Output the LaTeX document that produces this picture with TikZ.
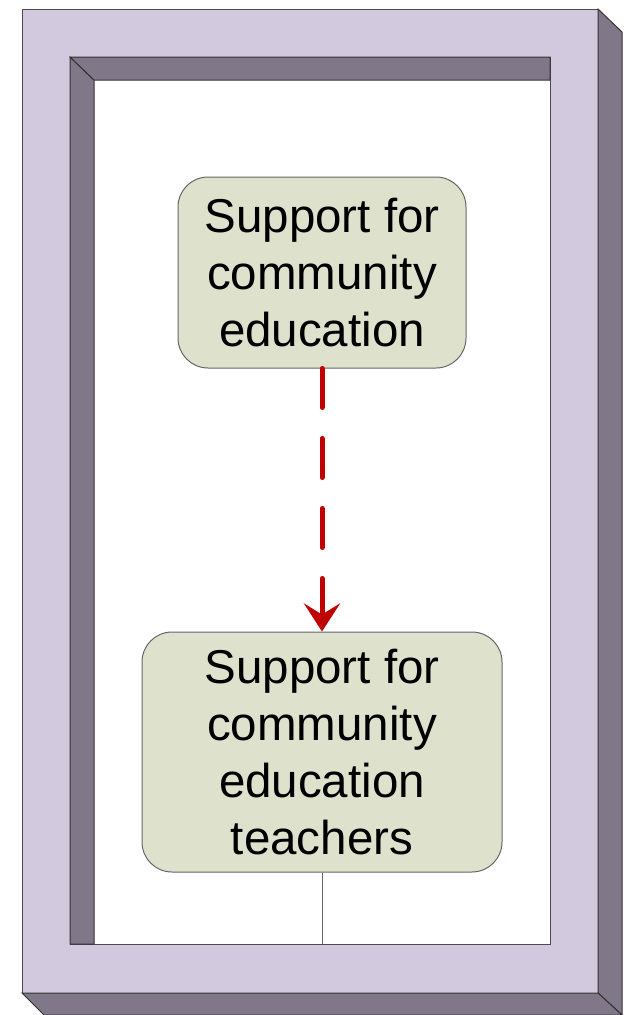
\documentclass[tikz,border=0pt]{standalone}
\usepackage{fontspec}
\setmainfont{Liberation Sans}
\usetikzlibrary{positioning,arrows.meta}
\definecolor{frameface}{RGB}{210,201,223}
\definecolor{frameside}{RGB}{128,120,136}
\definecolor{boxfill}{RGB}{222,225,204}
\definecolor{arrowred}{RGB}{192,0,0}
\tikzset{
>={Stealth[length=28pt,width=36pt,inset=11pt]}, % big curved arrow head
every node/.style={font=\fontsize{47.5}{57}\selectfont,align=center},
goal/.style={draw=black!60,line width=1pt,fill=boxfill,rounded corners=30pt,inner sep=0pt},
face/.style={fill=frameface,draw=black!70,line width=1pt},
side/.style={fill=frameside,draw=black!80,line width=1pt}
}

\begin{document}
\begin{tikzpicture}[x=1pt,y=-1pt]
   \useasboundingbox (0,0) rectangle (635,1015);
   % frame with its bevels
   \filldraw[face,even odd rule] (22,9) rectangle (598,993) (70,57) rectangle (550,944);
   \filldraw[side] (598,9) -- (622,32) -- (622,1015) -- (598,993) -- cycle;
   \filldraw[side] (22,993) -- (44,1015) -- (622,1015) -- (598,993) -- cycle;
   \filldraw[side] (70,57) -- (94,80) -- (94,944) -- (70,944) -- cycle;
   \filldraw[side] (70,57) -- (550,57) -- (550,80) -- (94,80) -- cycle;
   \coordinate (floor) at (322,944);
   % the two goals
   \node[goal, minimum width=288pt, minimum height=191pt] (edu) at (322,272.5) {Support for\\community\\education};
   \node[goal, minimum width=360pt, minimum height=240pt] (teach) at (322,752) {Support for\\community\\education\\teachers};
   \path[->]
    (edu) edge[draw=arrowred, line width=5pt, line cap=round, dash pattern=on 39pt off 31pt] (teach);
   \draw[black!60, line width=1pt] (teach) -- (floor);
\end{tikzpicture}
\end{document}
